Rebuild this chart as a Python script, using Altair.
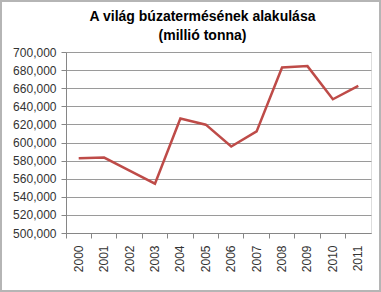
import altair as alt
import pandas as pd

years = ["2000", "2001", "2002", "2003", "2004", "2005", "2006", "2007", "2008", "2009", "2010", "2011"]
production = [582500, 583300, 569000, 554500, 626600, 619700, 595600, 612300, 682900, 684400, 647800, 662500]
title_lines = ["A világ búzatermésének alakulása", "(millió tonna)"]

df = pd.DataFrame({"year": years, "value": production})

W, H = 305, 181
PL, PT, PR, PB = 66, 52, 10, 59

line = alt.Chart(df).mark_line(color="#BE4B48", strokeWidth=2.5).encode(
    x=alt.X("year:O", bandPosition=0.5,
            scale=alt.Scale(type="band", paddingInner=0, paddingOuter=0),
            axis=alt.Axis(title=None, labelAngle=-90, bandPosition=0, labelAlign="right",
                          labelBaseline="middle", labelPadding=7, tickSize=5,
                          domainColor="#868686", tickColor="#868686",
                          labelColor="#333333", labelFont="Liberation Sans", labelFontSize=12,
                          grid=False)),
    y=alt.Y("value:Q", scale=alt.Scale(domain=[500000, 700000], nice=False, zero=False),
            axis=alt.Axis(title=None, values=list(range(500000, 700001, 20000)), format=",.0f",
                          tickSize=5, labelPadding=5, domainColor="#868686", tickColor="#868686",
                          gridColor="#9a9a9a", labelColor="#333333",
                          labelFont="Liberation Sans", labelFontSize=12)),
)

frame = alt.Chart(pd.DataFrame({"a": [0]})).mark_rect(
    fill=None, stroke="#b5b5b5", strokeWidth=2
).encode(
    x=alt.value(-PL + 1), x2=alt.value(W + PR - 1),
    y=alt.value(-PT + 1), y2=alt.value(H + PB - 1),
)

def title_layer(txt, ypos):
    return alt.Chart(pd.DataFrame({"t": [txt]})).mark_text(
        font="Liberation Sans", fontSize=14, fontWeight="bold", color="#000000",
        align="center", baseline="alphabetic"
    ).encode(text="t:N", x=alt.value(202.5 - PL), y=alt.value(ypos))

chart = alt.layer(
    line, frame,
    title_layer(title_lines[0], 21 - PT),
    title_layer(title_lines[1], 40 - PT),
).properties(
    width=W, height=H,
    padding={"left": PL, "top": PT, "right": PR, "bottom": PB},
    autosize=alt.AutoSizeParams(type="none"),
).configure_view(stroke=None).configure(background="white")

chart.save("out.html", embed_options={"renderer": "svg", "actions": False})
